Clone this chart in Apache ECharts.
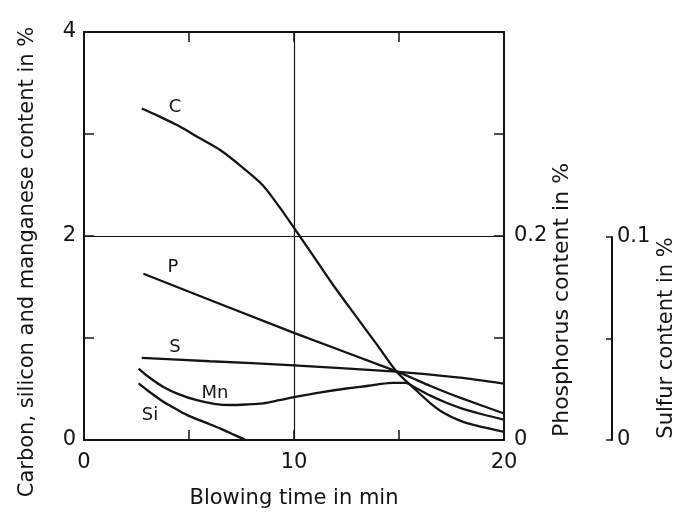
<!DOCTYPE html>
<html>
<head>
<meta charset="utf-8">
<script src="https://cdn.jsdelivr.net/npm/echarts@6/dist/echarts.min.js"></script>
<style>html,body{margin:0;padding:0;background:#fff}#c{width:684px;height:521px}</style>
</head>
<body>
<div id="c"></div>
<script>
// ---- data ----
const timeC = [2.75,3.5,4.5,5.5,6.5,7.5,8.5,9.25,10,11,12,13,14,14.85,15.8,16.5,17.1,17.9,18.7,20];
const carbon = [3.25,3.18,3.08,2.96,2.84,2.68,2.5,2.3,2.08,1.78,1.48,1.2,0.92,0.68,0.49,0.36,0.27,0.19,0.14,0.08];
const timeMn = [2.6,3.0,3.78,4.5,5.37,6.2,6.95,7.7,8.54,9.3,10.13,11.2,12.5,13.14,14.0,14.7,15.3,15.8,16.5,17.2,17.9,19,20];
const manganese = [0.70,0.63,0.52,0.45,0.39,0.355,0.343,0.348,0.36,0.39,0.425,0.465,0.505,0.52,0.545,0.56,0.56,0.51,0.435,0.37,0.315,0.25,0.2];
const timeSi = [2.6,3.0,3.78,4.5,5.05,5.8,6.5,7.2,7.7];
const silicon = [0.555,0.49,0.375,0.29,0.232,0.17,0.112,0.045,0];
const timeP = [2.83,10,14.85,16.5,17.9,20];
const phosphorus = [0.163,0.105,0.0675,0.053,0.0415,0.026];
const timeS = [2.75,6,10,14.85,17.9,20];
const sulfur = [0.0405,0.0388,0.0368,0.0337,0.0307,0.0278];
const curveNames = ['C','Mn','Si','P','S'];
const labelAt = {C:[4.33,3.26], Mn:[6.24,0.46], Si:[3.14,0.245], P:[4.24,0.169], S:[4.33,0.0458]};
const xTitle = 'Blowing time in min';
const yTitle = 'Carbon, silicon and manganese content in %';
const pTitle = 'Phosphorus content in %';
const sTitle = 'Sulfur content in %';
const xLabels = [0,10,20], yLabels = [0,2,4], pLabels = [0,0.2], sLabels = [0,0.1];

const FONT = 'DejaVu Sans';
const INK = '#141414';
const pairs = (xs, ys) => xs.map((x,i)=>[x, ys[i]]);
const show = list => v => list.some(l => Math.abs(l - v) < 1e-9) ? String(v) : '';

function curve(name, xs, ys, xi, yi, smooth) {
  return {
    name, type:'line', xAxisIndex:xi, yAxisIndex:yi, data:pairs(xs,ys),
    smooth: smooth, symbol:'none', silent:true,
    lineStyle:{color:INK, width:2.3},
    markPoint:{
      symbol:'circle', symbolSize:1, itemStyle:{color:'rgba(0,0,0,0)'},
      label:{show:true, position:'inside', color:INK, fontFamily:FONT, fontSize:18, formatter:name},
      data:[{coord:labelAt[name]}]
    }
  };
}

const axisLine = {show:true, onZero:false, lineStyle:{color:INK, width:2}};
const chart = echarts.init(document.getElementById('c'), null, {renderer:'canvas'});
const c = curve('C', timeC, carbon, 0, 0, 0.3);
c.markLine = {
  silent:true, symbol:'none', label:{show:false},
  lineStyle:{color:INK, width:1.2, type:'solid'},
  data:[{xAxis:10},{yAxis:2}]
};
chart.setOption({
  backgroundColor:'#fff',
  animation:false,
  grid:[
    {left:84, right:180, top:32, bottom:81},
    {left:84, right:180, top:237, bottom:81}
  ],
  xAxis:[
    {gridIndex:0, type:'value', min:0, max:20, interval:5, position:'bottom',
     axisLine:axisLine,
     axisTick:{inside:true, length:10, lineStyle:{color:INK, width:1.5}},
     axisLabel:{formatter:show(xLabels), color:INK, fontFamily:FONT, fontSize:21, margin:12},
     splitLine:{show:false},
     name:xTitle, nameLocation:'middle', nameGap:48,
     nameTextStyle:{color:INK, fontFamily:FONT, fontSize:21}},
    {gridIndex:0, type:'value', min:0, max:20, interval:5, position:'top',
     axisLine:axisLine,
     axisTick:{inside:true, length:10, lineStyle:{color:INK, width:1.5}},
     axisLabel:{show:false}, splitLine:{show:false}},
    {gridIndex:1, type:'value', min:0, max:20, show:false}
  ],
  yAxis:[
    {gridIndex:0, type:'value', min:0, max:4, interval:1, position:'left',
     axisLine:axisLine,
     axisTick:{show:true, inside:true, length:10, lineStyle:{color:INK, width:1.5}},
     axisLabel:{formatter:show(yLabels), color:INK, fontFamily:FONT, fontSize:21, margin:8},
     splitLine:{show:false}},
    {gridIndex:0, type:'value', min:0, max:0.4, interval:0.1, position:'right',
     axisLine:axisLine,
     axisTick:{show:true, inside:true, length:10, lineStyle:{color:INK, width:1.5}},
     axisLabel:{formatter:show(pLabels), color:INK, fontFamily:FONT, fontSize:21, margin:10},
     splitLine:{show:false}},
    {gridIndex:1, type:'value', min:0, max:0.1, interval:0.05, position:'right', offset:108,
     axisLine:axisLine,
     axisTick:{show:true, inside:true, length:6, lineStyle:{color:INK, width:1.5}},
     axisLabel:{formatter:show(sLabels), color:INK, fontFamily:FONT, fontSize:21, margin:5},
     splitLine:{show:false}}
  ],
  graphic:[
    {type:'text', x:28, y:262, rotation:Math.PI/2,
     style:{text:yTitle, fill:INK, font:'21px "DejaVu Sans"', textAlign:'center', textVerticalAlign:'middle'}},
    {type:'text', x:562, y:300, rotation:Math.PI/2,
     style:{text:pTitle, fill:INK, font:'22px "DejaVu Sans"', textAlign:'center', textVerticalAlign:'middle'}},
    {type:'text', x:667, y:338, rotation:Math.PI/2,
     style:{text:sTitle, fill:INK, font:'21px "DejaVu Sans"', textAlign:'center', textVerticalAlign:'middle'}}
  ],
  series:[
    c,
    curve('Mn', timeMn, manganese, 0, 0, 0.3),
    curve('Si', timeSi, silicon, 0, 0, 0.3),
    curve('P', timeP, phosphorus, 0, 1, 0.2),
    curve('S', timeS, sulfur, 2, 2, 0.2)
  ]
});
</script>
</body>
</html>
